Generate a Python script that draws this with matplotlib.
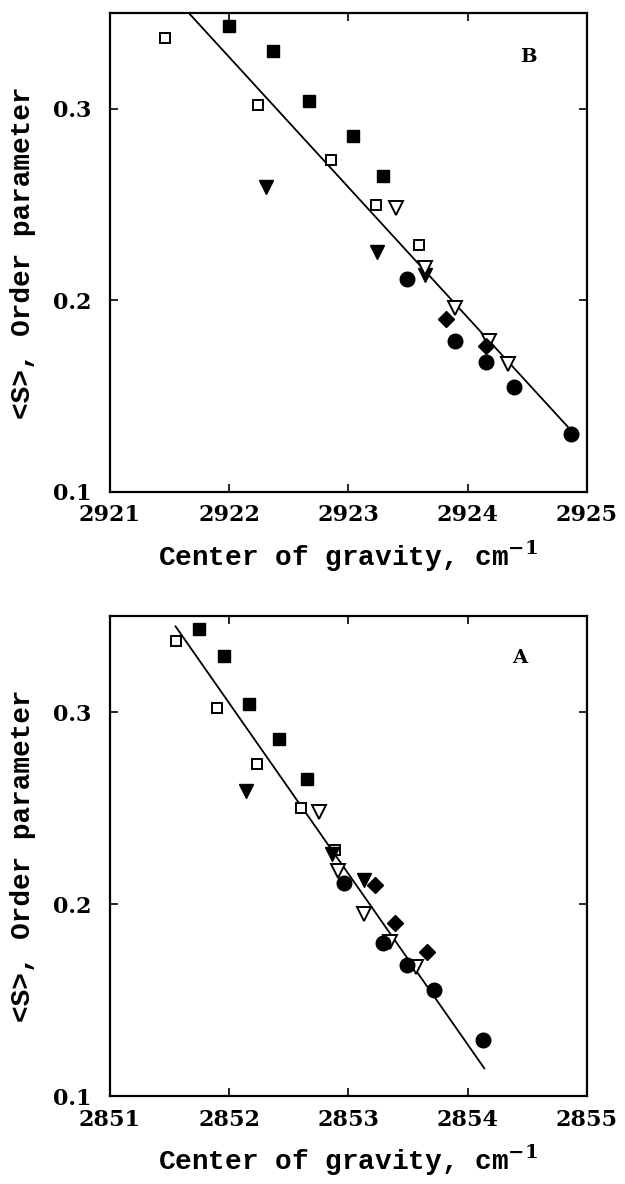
import matplotlib
matplotlib.use("Agg")
import matplotlib.pyplot as plt

# ---------- Panel B (C-H asymmetric stretch) ----------
B_open_sq_x = [2921.46, 2922.24, 2922.85, 2923.23, 2923.59]
B_open_sq_y = [0.337, 0.302, 0.273, 0.250, 0.229]
B_fill_sq_x = [2922.00, 2922.37, 2922.67, 2923.04, 2923.29]
B_fill_sq_y = [0.343, 0.330, 0.304, 0.286, 0.265]
B_fill_tri_x = [2922.31, 2923.24, 2923.64]
B_fill_tri_y = [0.259, 0.225, 0.213]
B_open_tri_x = [2923.40, 2923.64, 2923.89, 2924.18, 2924.34]
B_open_tri_y = [0.248, 0.217, 0.196, 0.179, 0.167]
B_diam_x = [2923.82, 2924.15]
B_diam_y = [0.190, 0.176]
B_circ_x = [2923.49, 2923.89, 2924.15, 2924.39, 2924.87]
B_circ_y = [0.211, 0.179, 0.168, 0.155, 0.130]
B_fit_x = [2921.66, 2924.84]
B_fit_y = [0.350, 0.134]

# ---------- Panel A (C-H symmetric stretch) ----------
A_open_sq_x = [2851.55, 2851.90, 2852.23, 2852.60, 2852.89]
A_open_sq_y = [0.337, 0.302, 0.273, 0.250, 0.228]
A_fill_sq_x = [2851.75, 2851.96, 2852.17, 2852.42, 2852.65]
A_fill_sq_y = [0.343, 0.329, 0.304, 0.286, 0.265]
A_fill_tri_x = [2852.14, 2852.86, 2853.13]
A_fill_tri_y = [0.259, 0.226, 0.2125]
A_open_tri_x = [2852.75, 2852.91, 2853.13, 2853.35, 2853.57]
A_open_tri_y = [0.248, 0.217, 0.195, 0.180, 0.167]
A_diam_x = [2853.22, 2853.39, 2853.66]
A_diam_y = [0.210, 0.190, 0.175]
A_circ_x = [2852.96, 2853.29, 2853.49, 2853.72, 2854.13]
A_circ_y = [0.211, 0.1795, 0.168, 0.155, 0.129]
A_fit_x = [2851.55, 2854.14]
A_fit_y = [0.3446, 0.1144]

B_xticks = [2921, 2922, 2923, 2924, 2925]
A_xticks = [2851, 2852, 2853, 2854, 2855]
yticks = [0.1, 0.2, 0.3]
ytick_labels = ["0.1", "0.2", "0.3"]

plt.rcParams['font.family'] = ['DejaVu Serif']
plt.rcParams['font.weight'] = 'bold'
plt.rcParams['mathtext.fontset'] = 'dejavuserif'

LABEL_FONT = ['Liberation Mono', 'DejaVu Serif']

fig = plt.figure(figsize=(6.25, 11.84), dpi=100)
axB = fig.add_axes([0.176, 0.5845, 0.763, 0.4046])
axA = fig.add_axes([0.176, 0.0743, 0.763, 0.4054])


def draw(ax, d, xticks, letter, lx, ly):
    (osx, osy, fsx, fsy, ftx, fty, otx, oty, dx, dy, cx, cy, lfx, lfy) = d
    ax.plot(lfx, lfy, color='black', lw=1.3, zorder=1)
    ax.plot(osx, osy, 's', ms=7.5, mfc='white', mec='black', mew=1.4, ls='none', zorder=3)
    ax.plot(fsx, fsy, 's', ms=8, color='black', ls='none', zorder=3)
    ax.plot(ftx, fty, 'v', ms=9.5, color='black', ls='none', zorder=3)
    ax.plot(otx, oty, 'v', ms=9.5, mfc='white', mec='black', mew=1.4, ls='none', zorder=3)
    ax.plot(dx, dy, 'D', ms=8.5, color='black', ls='none', zorder=3)
    ax.plot(cx, cy, 'o', ms=10.5, color='black', ls='none', zorder=3)
    ax.set_xlim(xticks[0], xticks[-1])
    ax.set_ylim(0.1, 0.35)
    ax.set_xticks(xticks)
    ax.set_xticklabels([str(t) for t in xticks], fontsize=16, fontweight='bold')
    ax.set_yticks(yticks)
    ax.set_yticklabels(ytick_labels, fontsize=16, fontweight='bold')
    ax.tick_params(direction='in', length=6, width=1.2, top=True, right=True)
    ax.tick_params(axis='x', pad=9)
    ax.tick_params(axis='y', pad=13.5)
    for s in ax.spines.values():
        s.set_linewidth(1.6)
    ax.set_xlabel("Center of gravity, cm$^{\\mathbf{-1}}$", fontsize=20,
                  fontweight='bold', family=LABEL_FONT, labelpad=9)
    ax.set_ylabel("<S>, Order parameter", fontsize=20, fontweight='bold',
                  family=LABEL_FONT, labelpad=12)
    ax.text(lx, ly, letter, fontsize=14, fontweight='bold', ha='center', va='center')


draw(axB, (B_open_sq_x, B_open_sq_y, B_fill_sq_x, B_fill_sq_y, B_fill_tri_x, B_fill_tri_y,
           B_open_tri_x, B_open_tri_y, B_diam_x, B_diam_y, B_circ_x, B_circ_y,
           B_fit_x, B_fit_y), B_xticks, "B", 2924.51, 0.327)
draw(axA, (A_open_sq_x, A_open_sq_y, A_fill_sq_x, A_fill_sq_y, A_fill_tri_x, A_fill_tri_y,
           A_open_tri_x, A_open_tri_y, A_diam_x, A_diam_y, A_circ_x, A_circ_y,
           A_fit_x, A_fit_y), A_xticks, "A", 2854.44, 0.328)

fig.savefig("out.png", dpi=100)
